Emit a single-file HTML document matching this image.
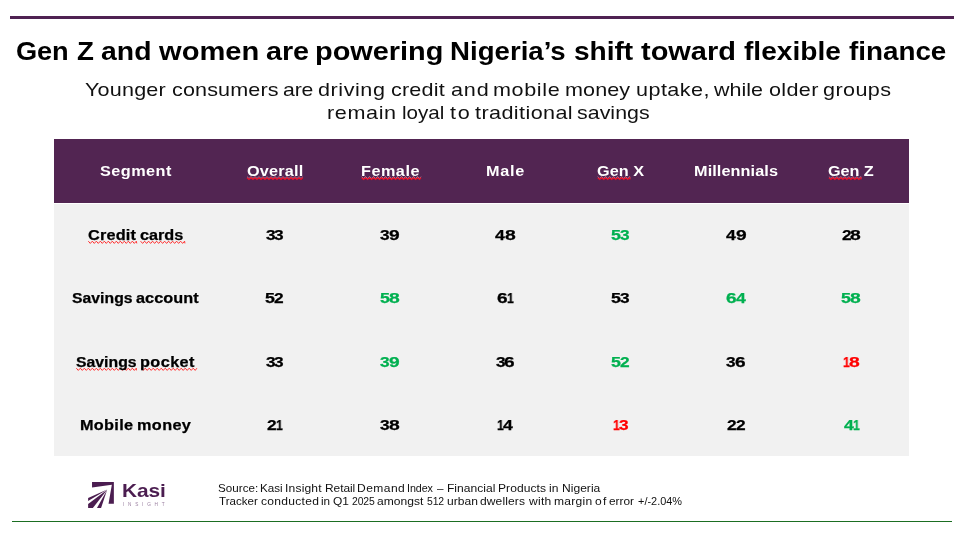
<!DOCTYPE html>
<html><head><meta charset="utf-8"><title>Slide</title>
<style>
html,body{margin:0;padding:0;background:#fff;}
body{width:958px;height:537px;position:relative;overflow:hidden;font-family:"Liberation Sans",sans-serif;}
.t{position:absolute;white-space:nowrap;line-height:1;transform-origin:0 0;will-change:transform;}
.bar{position:absolute;}
svg{position:absolute;}
.sq{left:0;top:0;}
.sq path{fill:none;stroke-linejoin:miter;}
</style></head><body>
<div class="bar" style="left:10.3px;top:16px;width:943.5px;height:3px;background:#4f2252"></div>
<div class="bar" style="left:54px;top:139px;width:855px;height:64px;background:#522552"></div>
<div class="bar" style="left:54px;top:204px;width:855px;height:252px;background:#f1f1f1"></div>
<div class="bar" style="left:12px;top:521px;width:940px;height:1px;background:#1b6e22"></div>
<svg class="logo" style="left:84px;top:478px" width="36" height="34" viewBox="0 0 569 537"><g fill="#4b1d50"><polygon points="127,65 472,65 472,405 388,405 440,105 127,150"/><polygon points="368,183 65,316 65,362"/><polygon points="366,186 65,412 65,475 140,475"/><polygon points="364,190 205,475 270,475"/></g></svg>
<svg class="sq" width="958" height="537" viewBox="0 0 958 537" fill="none"><path d="M247.0 176.7 L249.0 178.5 L251.0 176.7 L253.0 178.5 L255.0 176.7 L257.0 178.5 L259.0 176.7 L261.0 178.5 L263.0 176.7 L265.0 178.5 L267.0 176.7 L269.0 178.5 L271.0 176.7 L273.0 178.5 L275.0 176.7 L277.0 178.5 L279.0 176.7 L281.0 178.5 L283.0 176.7 L285.0 178.5 L287.0 176.7 L289.0 178.5 L291.0 176.7 L293.0 178.5 L295.0 176.7 L297.0 178.5 L299.0 176.7 L301.0 178.5 L302.9 176.7" stroke="#f3c9d3" stroke-width="0.7" opacity="0.85"/><path d="M247.0 177.7 L249.0 179.5 L251.0 177.7 L253.0 179.5 L255.0 177.7 L257.0 179.5 L259.0 177.7 L261.0 179.5 L263.0 177.7 L265.0 179.5 L267.0 177.7 L269.0 179.5 L271.0 177.7 L273.0 179.5 L275.0 177.7 L277.0 179.5 L279.0 177.7 L281.0 179.5 L283.0 177.7 L285.0 179.5 L287.0 177.7 L289.0 179.5 L291.0 177.7 L293.0 179.5 L295.0 177.7 L297.0 179.5 L299.0 177.7 L301.0 179.5 L302.9 177.7" stroke="#e8102a" stroke-width="1.15"/><path d="M361.6 176.7 L363.6 178.5 L365.6 176.7 L367.6 178.5 L369.6 176.7 L371.6 178.5 L373.6 176.7 L375.6 178.5 L377.6 176.7 L379.6 178.5 L381.6 176.7 L383.6 178.5 L385.6 176.7 L387.6 178.5 L389.6 176.7 L391.6 178.5 L393.6 176.7 L395.6 178.5 L397.6 176.7 L399.6 178.5 L401.6 176.7 L403.6 178.5 L405.6 176.7 L407.6 178.5 L409.6 176.7 L411.6 178.5 L413.6 176.7 L415.6 178.5 L417.6 176.7 L419.6 178.5 L421.0 176.7" stroke="#f3c9d3" stroke-width="0.7" opacity="0.85"/><path d="M361.6 177.7 L363.6 179.5 L365.6 177.7 L367.6 179.5 L369.6 177.7 L371.6 179.5 L373.6 177.7 L375.6 179.5 L377.6 177.7 L379.6 179.5 L381.6 177.7 L383.6 179.5 L385.6 177.7 L387.6 179.5 L389.6 177.7 L391.6 179.5 L393.6 177.7 L395.6 179.5 L397.6 177.7 L399.6 179.5 L401.6 177.7 L403.6 179.5 L405.6 177.7 L407.6 179.5 L409.6 177.7 L411.6 179.5 L413.6 177.7 L415.6 179.5 L417.6 177.7 L419.6 179.5 L421.0 177.7" stroke="#e8102a" stroke-width="1.15"/><path d="M597.7 176.7 L599.7 178.5 L601.7 176.7 L603.7 178.5 L605.7 176.7 L607.7 178.5 L609.7 176.7 L611.7 178.5 L613.7 176.7 L615.7 178.5 L617.7 176.7 L619.7 178.5 L621.7 176.7 L623.7 178.5 L625.7 176.7 L627.7 178.5 L629.7 176.7 L630.0 178.5" stroke="#f3c9d3" stroke-width="0.7" opacity="0.85"/><path d="M597.7 177.7 L599.7 179.5 L601.7 177.7 L603.7 179.5 L605.7 177.7 L607.7 179.5 L609.7 177.7 L611.7 179.5 L613.7 177.7 L615.7 179.5 L617.7 177.7 L619.7 179.5 L621.7 177.7 L623.7 179.5 L625.7 177.7 L627.7 179.5 L629.7 177.7 L630.0 179.5" stroke="#e8102a" stroke-width="1.15"/><path d="M828.9 176.7 L830.9 178.5 L832.9 176.7 L834.9 178.5 L836.9 176.7 L838.9 178.5 L840.9 176.7 L842.9 178.5 L844.9 176.7 L846.9 178.5 L848.9 176.7 L850.9 178.5 L852.9 176.7 L854.9 178.5 L856.9 176.7 L858.9 178.5 L860.9 176.7 L861.0 178.5" stroke="#f3c9d3" stroke-width="0.7" opacity="0.85"/><path d="M828.9 177.7 L830.9 179.5 L832.9 177.7 L834.9 179.5 L836.9 177.7 L838.9 179.5 L840.9 177.7 L842.9 179.5 L844.9 177.7 L846.9 179.5 L848.9 177.7 L850.9 179.5 L852.9 177.7 L854.9 179.5 L856.9 177.7 L858.9 179.5 L860.9 177.7 L861.0 179.5" stroke="#e8102a" stroke-width="1.15"/><path d="M88.3 241.2 L90.3 243.4 L92.3 241.2 L94.3 243.4 L96.3 241.2 L98.3 243.4 L100.3 241.2 L102.3 243.4 L104.3 241.2 L106.3 243.4 L108.3 241.2 L110.3 243.4 L112.3 241.2 L114.3 243.4 L116.3 241.2 L118.3 243.4 L120.3 241.2 L122.3 243.4 L124.3 241.2 L126.3 243.4 L128.3 241.2 L130.3 243.4 L132.3 241.2 L134.3 243.4 L136.3 241.2 L136.8 243.4" stroke="#ff2626" stroke-width="0.95"/><path d="M140.6 241.2 L142.6 243.4 L144.6 241.2 L146.6 243.4 L148.6 241.2 L150.6 243.4 L152.6 241.2 L154.6 243.4 L156.6 241.2 L158.6 243.4 L160.6 241.2 L162.6 243.4 L164.6 241.2 L166.6 243.4 L168.6 241.2 L170.6 243.4 L172.6 241.2 L174.6 243.4 L176.6 241.2 L178.6 243.4 L180.6 241.2 L182.6 243.4 L184.6 241.2 L184.9 243.4" stroke="#ff2626" stroke-width="0.95"/><path d="M76.3 368.2 L78.3 370.4 L80.3 368.2 L82.3 370.4 L84.3 368.2 L86.3 370.4 L88.3 368.2 L90.3 370.4 L92.3 368.2 L94.3 370.4 L96.3 368.2 L98.3 370.4 L100.3 368.2 L102.3 370.4 L104.3 368.2 L106.3 370.4 L108.3 368.2 L110.3 370.4 L112.3 368.2 L114.3 370.4 L116.3 368.2 L118.3 370.4 L120.3 368.2 L122.3 370.4 L124.3 368.2 L126.3 370.4 L128.3 368.2 L130.3 370.4 L132.3 368.2 L134.3 370.4 L136.3 368.2 L136.4 370.4" stroke="#ff2626" stroke-width="0.95"/><path d="M141.2 368.2 L143.2 370.4 L145.2 368.2 L147.2 370.4 L149.2 368.2 L151.2 370.4 L153.2 368.2 L155.2 370.4 L157.2 368.2 L159.2 370.4 L161.2 368.2 L163.2 370.4 L165.2 368.2 L167.2 370.4 L169.2 368.2 L171.2 370.4 L173.2 368.2 L175.2 370.4 L177.2 368.2 L179.2 370.4 L181.2 368.2 L183.2 370.4 L185.2 368.2 L187.2 370.4 L189.2 368.2 L191.2 370.4 L193.2 368.2 L195.2 370.4 L196.9 368.2" stroke="#ff2626" stroke-width="0.95"/></svg>
<div class="t" style="left:16.29px;top:39px;font-size:25.2px;transform:scaleX(1.0801);color:#000;font-weight:700;letter-spacing:-0.101px;">Gen</div>
<div class="t" style="left:76.98px;top:39px;font-size:25.2px;transform:scaleX(1.0985);color:#000;font-weight:700;">Z</div>
<div class="t" style="left:100.90px;top:39px;font-size:25.2px;transform:scaleX(1.1251);color:#000;font-weight:700;letter-spacing:0.097px;">and</div>
<div class="t" style="left:159.22px;top:39px;font-size:25.2px;transform:scaleX(1.1553);color:#000;font-weight:700;letter-spacing:0.021px;">women</div>
<div class="t" style="left:266.20px;top:39px;font-size:25.2px;transform:scaleX(1.1422);color:#000;font-weight:700;letter-spacing:-0.042px;">are</div>
<div class="t" style="left:315.40px;top:39px;font-size:25.2px;transform:scaleX(1.1476);color:#000;font-weight:700;letter-spacing:-0.006px;">powering</div>
<div class="t" style="left:449.90px;top:39px;font-size:25.2px;transform:scaleX(1.0961);color:#000;font-weight:700;letter-spacing:0.014px;">Nigeria’s</div>
<div class="t" style="left:573.85px;top:39px;font-size:25.2px;transform:scaleX(1.1155);color:#000;font-weight:700;letter-spacing:-0.043px;">shift</div>
<div class="t" style="left:640.63px;top:39px;font-size:25.2px;transform:scaleX(1.1502);color:#000;font-weight:700;letter-spacing:-0.002px;">toward</div>
<div class="t" style="left:743.51px;top:39px;font-size:25.2px;transform:scaleX(1.1157);color:#000;font-weight:700;letter-spacing:-0.003px;">flexible</div>
<div class="t" style="left:849.11px;top:39px;font-size:25.2px;transform:scaleX(1.1042);color:#000;font-weight:700;letter-spacing:-0.006px;">finance</div>
<div class="t" style="left:84.78px;top:81px;font-size:18.6px;transform:scaleX(1.1600);color:#111;letter-spacing:0.167px;">Younger</div>
<div class="t" style="left:171.90px;top:81px;font-size:18.6px;transform:scaleX(1.1600);color:#111;letter-spacing:0.119px;">consumers</div>
<div class="t" style="left:282.70px;top:81px;font-size:18.6px;transform:scaleX(1.1385);color:#111;letter-spacing:-0.129px;">are</div>
<div class="t" style="left:317.80px;top:81px;font-size:18.6px;transform:scaleX(1.1600);color:#111;letter-spacing:0.484px;">driving</div>
<div class="t" style="left:390.70px;top:81px;font-size:18.6px;transform:scaleX(1.1600);color:#111;letter-spacing:0.154px;">credit</div>
<div class="t" style="left:450.79px;top:81px;font-size:18.6px;transform:scaleX(1.1600);color:#111;letter-spacing:0.719px;">and</div>
<div class="t" style="left:493.13px;top:81px;font-size:18.6px;transform:scaleX(1.1600);color:#111;letter-spacing:0.539px;">mobile</div>
<div class="t" style="left:564.93px;top:81px;font-size:18.6px;transform:scaleX(1.1600);color:#111;letter-spacing:0.089px;">money</div>
<div class="t" style="left:635.99px;top:81px;font-size:18.6px;transform:scaleX(1.1600);color:#111;letter-spacing:0.383px;">uptake,</div>
<div class="t" style="left:714.08px;top:81px;font-size:18.6px;transform:scaleX(1.1539);color:#111;letter-spacing:0.016px;">while</div>
<div class="t" style="left:768.60px;top:81px;font-size:18.6px;transform:scaleX(1.1600);color:#111;letter-spacing:0.306px;">older</div>
<div class="t" style="left:823.40px;top:81px;font-size:18.6px;transform:scaleX(1.1600);color:#111;letter-spacing:0.366px;">groups</div>
<div class="t" style="left:327.34px;top:104px;font-size:18.6px;transform:scaleX(1.1600);color:#111;letter-spacing:0.541px;">remain</div>
<div class="t" style="left:402.00px;top:104px;font-size:18.6px;transform:scaleX(1.1069);color:#111;letter-spacing:-0.029px;">loyal</div>
<div class="t" style="left:449.76px;top:104px;font-size:18.6px;transform:scaleX(1.1600);color:#111;letter-spacing:1.603px;">to</div>
<div class="t" style="left:474.86px;top:104px;font-size:18.6px;transform:scaleX(1.1600);color:#111;letter-spacing:0.356px;">traditional</div>
<div class="t" style="left:576.57px;top:104px;font-size:18.6px;transform:scaleX(1.1479);color:#111;letter-spacing:0.042px;">savings</div>
<div class="t" style="left:100.08px;top:164px;font-size:14px;transform:scaleX(1.1600);color:#fff;font-weight:700;letter-spacing:0.390px;">Segment</div>
<div class="t" style="left:246.76px;top:164px;font-size:14px;transform:scaleX(1.1600);color:#fff;font-weight:700;letter-spacing:0.160px;">Overall</div>
<div class="t" style="left:360.80px;top:164px;font-size:14px;transform:scaleX(1.1600);color:#fff;font-weight:700;letter-spacing:0.421px;">Female</div>
<div class="t" style="left:486.20px;top:164px;font-size:14px;transform:scaleX(1.1600);color:#fff;font-weight:700;letter-spacing:0.610px;">Male</div>
<div class="t" style="left:597.25px;top:164px;font-size:14px;transform:scaleX(1.1600);color:#fff;font-weight:700;letter-spacing:0.032px;">Gen X</div>
<div class="t" style="left:694.10px;top:164px;font-size:14px;transform:scaleX(1.1600);color:#fff;font-weight:700;letter-spacing:0.084px;">Millennials</div>
<div class="t" style="left:828.45px;top:164px;font-size:14px;transform:scaleX(1.1600);color:#fff;font-weight:700;letter-spacing:-0.081px;">Gen Z</div>
<div class="t" style="left:88.46px;top:228px;font-size:14px;transform:scaleX(1.1600);color:#000;font-weight:700;-webkit-text-stroke:0.25px;letter-spacing:0.175px;">Credit</div>
<div class="t" style="left:140.30px;top:228px;font-size:14px;transform:scaleX(1.1596);color:#000;font-weight:700;-webkit-text-stroke:0.25px;letter-spacing:-0.036px;">cards</div>
<div class="t" style="left:72.00px;top:291px;font-size:14px;transform:scaleX(1.1232);color:#000;font-weight:700;-webkit-text-stroke:0.25px;letter-spacing:0.033px;">Savings</div>
<div class="t" style="left:136.37px;top:291px;font-size:14px;transform:scaleX(1.1600);color:#000;font-weight:700;-webkit-text-stroke:0.25px;letter-spacing:0.045px;">account</div>
<div class="t" style="left:76.09px;top:355px;font-size:14px;transform:scaleX(1.1270);color:#000;font-weight:700;-webkit-text-stroke:0.25px;letter-spacing:0.014px;">Savings</div>
<div class="t" style="left:140.28px;top:355px;font-size:14px;transform:scaleX(1.1600);color:#000;font-weight:700;-webkit-text-stroke:0.25px;letter-spacing:0.369px;">pocket</div>
<div class="t" style="left:80.30px;top:418px;font-size:14px;transform:scaleX(1.1600);color:#000;font-weight:700;-webkit-text-stroke:0.25px;letter-spacing:0.277px;">Mobile</div>
<div class="t" style="left:136.59px;top:418px;font-size:14px;transform:scaleX(1.1600);color:#000;font-weight:700;-webkit-text-stroke:0.25px;letter-spacing:0.335px;">money</div>
<div class="t" style="left:265.56px;top:228px;font-size:14px;transform:scaleX(1.2331);color:#000;font-weight:700;-webkit-text-stroke:0.25px;">3</div>
<div class="t" style="left:274.36px;top:228px;font-size:14px;transform:scaleX(1.2331);color:#000;font-weight:700;-webkit-text-stroke:0.25px;">3</div>
<div class="t" style="left:380.39px;top:228px;font-size:14px;transform:scaleX(1.2331);color:#000;font-weight:700;-webkit-text-stroke:0.25px;">3</div>
<div class="t" style="left:389.10px;top:228px;font-size:14px;transform:scaleX(1.3699);color:#000;font-weight:700;-webkit-text-stroke:0.25px;">9</div>
<div class="t" style="left:495.38px;top:228px;font-size:14px;transform:scaleX(1.2581);color:#000;font-weight:700;-webkit-text-stroke:0.25px;">4</div>
<div class="t" style="left:504.94px;top:228px;font-size:14px;transform:scaleX(1.3800);color:#000;font-weight:700;-webkit-text-stroke:0.25px;">8</div>
<div class="t" style="left:611.25px;top:228px;font-size:14px;transform:scaleX(1.2689);color:#00b050;font-weight:700;-webkit-text-stroke:0.25px;">5</div>
<div class="t" style="left:620.36px;top:228px;font-size:14px;transform:scaleX(1.2331);color:#00b050;font-weight:700;-webkit-text-stroke:0.25px;">3</div>
<div class="t" style="left:726.13px;top:228px;font-size:14px;transform:scaleX(1.2581);color:#000;font-weight:700;-webkit-text-stroke:0.25px;">4</div>
<div class="t" style="left:735.70px;top:228px;font-size:14px;transform:scaleX(1.3699);color:#000;font-weight:700;-webkit-text-stroke:0.25px;">9</div>
<div class="t" style="left:841.62px;top:228px;font-size:14px;transform:scaleX(1.2367);color:#000;font-weight:700;-webkit-text-stroke:0.25px;">2</div>
<div class="t" style="left:850.39px;top:228px;font-size:14px;transform:scaleX(1.3800);color:#000;font-weight:700;-webkit-text-stroke:0.25px;">8</div>
<div class="t" style="left:265.30px;top:291px;font-size:14px;transform:scaleX(1.2689);color:#000;font-weight:700;-webkit-text-stroke:0.25px;">5</div>
<div class="t" style="left:274.45px;top:291px;font-size:14px;transform:scaleX(1.2367);color:#000;font-weight:700;-webkit-text-stroke:0.25px;">2</div>
<div class="t" style="left:380.12px;top:291px;font-size:14px;transform:scaleX(1.2689);color:#00b050;font-weight:700;-webkit-text-stroke:0.25px;">5</div>
<div class="t" style="left:389.14px;top:291px;font-size:14px;transform:scaleX(1.3800);color:#00b050;font-weight:700;-webkit-text-stroke:0.25px;">8</div>
<div class="t" style="left:497.30px;top:291px;font-size:14px;transform:scaleX(1.3570);color:#000;font-weight:700;-webkit-text-stroke:0.25px;">6</div>
<div class="t" style="left:506.88px;top:291px;font-size:14px;transform:scaleX(0.8796);color:#000;font-weight:700;-webkit-text-stroke:0.25px;">1</div>
<div class="t" style="left:611.25px;top:291px;font-size:14px;transform:scaleX(1.2689);color:#000;font-weight:700;-webkit-text-stroke:0.25px;">5</div>
<div class="t" style="left:620.36px;top:291px;font-size:14px;transform:scaleX(1.2331);color:#000;font-weight:700;-webkit-text-stroke:0.25px;">3</div>
<div class="t" style="left:725.73px;top:291px;font-size:14px;transform:scaleX(1.3570);color:#00b050;font-weight:700;-webkit-text-stroke:0.25px;">6</div>
<div class="t" style="left:735.83px;top:291px;font-size:14px;transform:scaleX(1.2581);color:#00b050;font-weight:700;-webkit-text-stroke:0.25px;">4</div>
<div class="t" style="left:841.42px;top:291px;font-size:14px;transform:scaleX(1.2689);color:#00b050;font-weight:700;-webkit-text-stroke:0.25px;">5</div>
<div class="t" style="left:850.44px;top:291px;font-size:14px;transform:scaleX(1.3800);color:#00b050;font-weight:700;-webkit-text-stroke:0.25px;">8</div>
<div class="t" style="left:265.56px;top:355px;font-size:14px;transform:scaleX(1.2331);color:#000;font-weight:700;-webkit-text-stroke:0.25px;">3</div>
<div class="t" style="left:274.36px;top:355px;font-size:14px;transform:scaleX(1.2331);color:#000;font-weight:700;-webkit-text-stroke:0.25px;">3</div>
<div class="t" style="left:380.39px;top:355px;font-size:14px;transform:scaleX(1.2331);color:#00b050;font-weight:700;-webkit-text-stroke:0.25px;">3</div>
<div class="t" style="left:389.10px;top:355px;font-size:14px;transform:scaleX(1.3699);color:#00b050;font-weight:700;-webkit-text-stroke:0.25px;">9</div>
<div class="t" style="left:495.74px;top:355px;font-size:14px;transform:scaleX(1.2331);color:#000;font-weight:700;-webkit-text-stroke:0.25px;">3</div>
<div class="t" style="left:504.43px;top:355px;font-size:14px;transform:scaleX(1.3570);color:#000;font-weight:700;-webkit-text-stroke:0.25px;">6</div>
<div class="t" style="left:611.20px;top:355px;font-size:14px;transform:scaleX(1.2689);color:#00b050;font-weight:700;-webkit-text-stroke:0.25px;">5</div>
<div class="t" style="left:620.35px;top:355px;font-size:14px;transform:scaleX(1.2367);color:#00b050;font-weight:700;-webkit-text-stroke:0.25px;">2</div>
<div class="t" style="left:726.44px;top:355px;font-size:14px;transform:scaleX(1.2331);color:#000;font-weight:700;-webkit-text-stroke:0.25px;">3</div>
<div class="t" style="left:735.13px;top:355px;font-size:14px;transform:scaleX(1.3570);color:#000;font-weight:700;-webkit-text-stroke:0.25px;">6</div>
<div class="t" style="left:843.13px;top:355px;font-size:14px;transform:scaleX(0.8796);color:#ff0000;font-weight:700;-webkit-text-stroke:0.25px;">1</div>
<div class="t" style="left:848.66px;top:355px;font-size:14px;transform:scaleX(1.3800);color:#ff0000;font-weight:700;-webkit-text-stroke:0.25px;">8</div>
<div class="t" style="left:267.22px;top:418px;font-size:14px;transform:scaleX(1.2367);color:#000;font-weight:700;-webkit-text-stroke:0.25px;">2</div>
<div class="t" style="left:275.90px;top:418px;font-size:14px;transform:scaleX(0.8796);color:#000;font-weight:700;-webkit-text-stroke:0.25px;">1</div>
<div class="t" style="left:380.34px;top:418px;font-size:14px;transform:scaleX(1.2331);color:#000;font-weight:700;-webkit-text-stroke:0.25px;">3</div>
<div class="t" style="left:389.04px;top:418px;font-size:14px;transform:scaleX(1.3800);color:#000;font-weight:700;-webkit-text-stroke:0.25px;">8</div>
<div class="t" style="left:497.05px;top:418px;font-size:14px;transform:scaleX(0.8796);color:#000;font-weight:700;-webkit-text-stroke:0.25px;">1</div>
<div class="t" style="left:503.03px;top:418px;font-size:14px;transform:scaleX(1.2581);color:#000;font-weight:700;-webkit-text-stroke:0.25px;">4</div>
<div class="t" style="left:612.95px;top:418px;font-size:14px;transform:scaleX(0.8796);color:#ff0000;font-weight:700;-webkit-text-stroke:0.25px;">1</div>
<div class="t" style="left:618.59px;top:418px;font-size:14px;transform:scaleX(1.2331);color:#ff0000;font-weight:700;-webkit-text-stroke:0.25px;">3</div>
<div class="t" style="left:726.80px;top:418px;font-size:14px;transform:scaleX(1.2367);color:#000;font-weight:700;-webkit-text-stroke:0.25px;">2</div>
<div class="t" style="left:735.70px;top:418px;font-size:14px;transform:scaleX(1.2367);color:#000;font-weight:700;-webkit-text-stroke:0.25px;">2</div>
<div class="t" style="left:843.58px;top:418px;font-size:14px;transform:scaleX(1.2581);color:#00b050;font-weight:700;-webkit-text-stroke:0.25px;">4</div>
<div class="t" style="left:853.05px;top:418px;font-size:14px;transform:scaleX(0.8796);color:#00b050;font-weight:700;-webkit-text-stroke:0.25px;">1</div>
<div class="t" style="left:218.35px;top:484px;font-size:10.4px;transform:scaleX(1.1191);color:#111;letter-spacing:0.039px;">Source:</div>
<div class="t" style="left:260.30px;top:484px;font-size:10.4px;transform:scaleX(1.1190);color:#111;letter-spacing:0.018px;">Kasi</div>
<div class="t" style="left:284.77px;top:484px;font-size:10.4px;transform:scaleX(1.1600);color:#111;letter-spacing:0.157px;">Insight</div>
<div class="t" style="left:324.50px;top:484px;font-size:10.4px;transform:scaleX(1.1476);color:#111;letter-spacing:-0.040px;">Retail</div>
<div class="t" style="left:357.30px;top:484px;font-size:10.4px;transform:scaleX(1.1600);color:#111;letter-spacing:0.376px;">Demand</div>
<div class="t" style="left:407.37px;top:484px;font-size:10.4px;transform:scaleX(1.0320);color:#111;letter-spacing:-0.076px;">Index</div>
<div class="t" style="left:437.13px;top:484px;font-size:10.4px;transform:scaleX(1.1249);color:#111;">–</div>
<div class="t" style="left:447.40px;top:484px;font-size:10.4px;transform:scaleX(1.1600);color:#111;letter-spacing:0.008px;">Financial</div>
<div class="t" style="left:498.20px;top:484px;font-size:10.4px;transform:scaleX(1.1600);color:#111;letter-spacing:0.059px;">Products</div>
<div class="t" style="left:549.30px;top:484px;font-size:10.4px;transform:scaleX(1.1600);color:#111;letter-spacing:0.024px;">in</div>
<div class="t" style="left:561.70px;top:484px;font-size:10.4px;transform:scaleX(1.1600);color:#111;letter-spacing:0.014px;">Nigeria</div>
<div class="t" style="left:218.95px;top:497px;font-size:10.4px;transform:scaleX(1.1104);color:#111;letter-spacing:0.021px;">Tracker</div>
<div class="t" style="left:260.72px;top:497px;font-size:10.4px;transform:scaleX(1.1600);color:#111;letter-spacing:0.244px;">conducted</div>
<div class="t" style="left:320.73px;top:497px;font-size:10.4px;transform:scaleX(1.1250);color:#111;letter-spacing:-0.145px;">in</div>
<div class="t" style="left:332.59px;top:497px;font-size:10.4px;transform:scaleX(1.1523);color:#111;letter-spacing:-0.071px;">Q1</div>
<div class="t" style="left:351.76px;top:497px;font-size:10.4px;transform:scaleX(0.9911);color:#111;letter-spacing:-0.116px;">2025</div>
<div class="t" style="left:377.24px;top:497px;font-size:10.4px;transform:scaleX(1.1600);color:#111;letter-spacing:0.022px;">amongst</div>
<div class="t" style="left:427.26px;top:497px;font-size:10.4px;transform:scaleX(0.9911);color:#111;letter-spacing:-0.111px;">512</div>
<div class="t" style="left:447.02px;top:497px;font-size:10.4px;transform:scaleX(1.1600);color:#111;letter-spacing:0.016px;">urban</div>
<div class="t" style="left:480.44px;top:497px;font-size:10.4px;transform:scaleX(1.1600);color:#111;letter-spacing:0.086px;">dwellers</div>
<div class="t" style="left:528.55px;top:497px;font-size:10.4px;transform:scaleX(1.1600);color:#111;letter-spacing:0.227px;">with</div>
<div class="t" style="left:553.98px;top:497px;font-size:10.4px;transform:scaleX(1.1600);color:#111;letter-spacing:0.239px;">margin</div>
<div class="t" style="left:594.72px;top:497px;font-size:10.4px;transform:scaleX(1.1600);color:#111;letter-spacing:1.014px;">of</div>
<div class="t" style="left:609.03px;top:497px;font-size:10.4px;transform:scaleX(1.1395);color:#111;letter-spacing:-0.016px;">error</div>
<div class="t" style="left:637.77px;top:497px;font-size:10.4px;transform:scaleX(1.0494);color:#111;letter-spacing:0.010px;">+/-2.04%</div>
<div class="t" style="left:121.79px;top:482px;font-size:18.2px;transform:scaleX(1.1465);color:#4b1d50;font-weight:700;letter-spacing:-0.059px;">Kasi</div>
<div class="t" style="left:122.83px;top:503px;font-size:4.7px;transform:scaleX(1.0000);color:#9a7fa0;letter-spacing:3.770px;">INSIGHT</div>
</body></html>
